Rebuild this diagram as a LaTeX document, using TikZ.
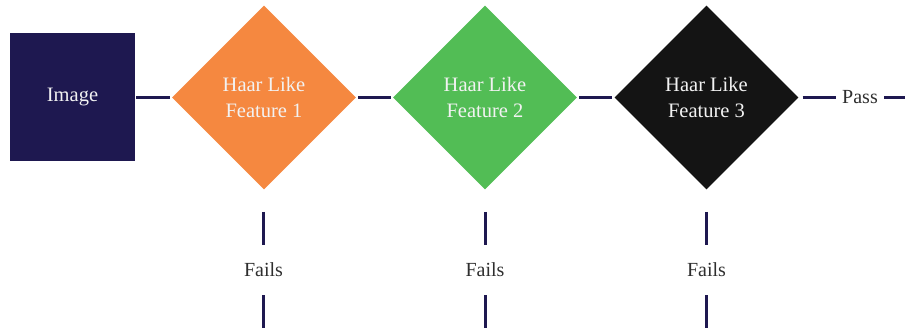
\documentclass[tikz,border=0pt]{standalone}
\usepackage{fontspec}
\setmainfont{Liberation Serif}
\usetikzlibrary{shapes.geometric}
\definecolor{navy}{HTML}{1E1850}
\definecolor{orng}{HTML}{F58840}
\definecolor{grn}{HTML}{52BD55}
\definecolor{blk}{HTML}{141414}
\definecolor{lighttext}{HTML}{F2F2F2}
\definecolor{darktext}{HTML}{2E2E2E}
\begin{document}
\begin{tikzpicture}[x=1pt,y=-1pt,
  boxtext/.style={text=lighttext,font=\fontsize{20.5}{26}\selectfont,align=center},
  imgbox/.style={boxtext,rectangle,fill=navy,minimum width=125pt,minimum height=128pt,inner sep=0pt},
  featdia/.style={boxtext,diamond,aspect=1,minimum width=184pt,minimum height=184pt,inner sep=0pt},
  conn/.style={draw=navy,line width=3pt},
  lbl/.style={text=darktext,font=\fontsize{20}{24}\selectfont,inner sep=0pt},
  failbox/.style={lbl,minimum height=50pt}
]
\useasboundingbox (0,0) rectangle (905,328);
\node[imgbox] (img) at (72.5,97.5) {Image};
\node[featdia,fill=orng] (d1) at (264,97.5) {Haar Like\\Feature 1};
\node[featdia,fill=grn] (d2) at (485,97.5) {Haar Like\\Feature 2};
\node[featdia,fill=blk] (d3) at (706.5,97.5) {Haar Like\\Feature 3};
\node[lbl,minimum width=48pt,minimum height=20pt] (pass) at (860,97.5) {Pass};
\coordinate (pend) at (905,97.5);
\draw[conn] ([xshift=1pt]img.east) -- ([xshift=-2pt]d1.west);
\draw[conn] ([xshift=2pt]d1.east) -- ([xshift=-2pt]d2.west);
\draw[conn] ([xshift=2pt]d2.east) -- ([xshift=-2pt]d3.west);
\draw[conn] ([xshift=4pt]d3.east) -- (pass.west);
\draw[conn] (pass.east) -- (pend);
\foreach \i/\x in {1/263.5,2/485,3/706.5}{
  \node[failbox] (f\i) at (\x,270) {Fails};
  \coordinate (ft\i) at (\x,212);
  \coordinate (fb\i) at (\x,328);
  \draw[conn] (ft\i) -- (f\i.north);
  \draw[conn] (f\i.south) -- (fb\i);
}
\end{tikzpicture}
\end{document}
